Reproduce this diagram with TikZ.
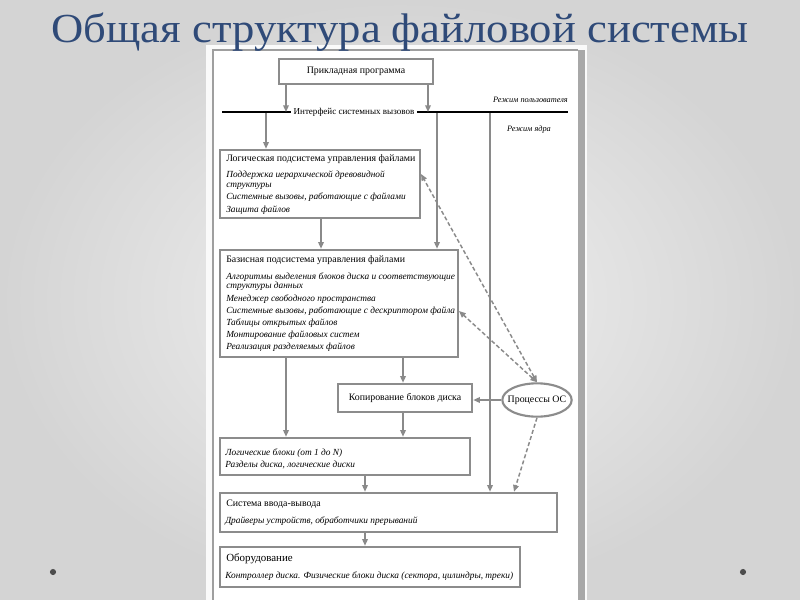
\documentclass[tikz,border=0pt]{standalone}
\usepackage{fontspec}
\setmainfont{Liberation Serif}
\usetikzlibrary{arrows.meta,shapes.geometric,fit,calc}
\definecolor{titc}{HTML}{2F4A78}
\definecolor{boxc}{HTML}{8C8C8C}
\definecolor{arrc}{HTML}{8A8A8A}
\definecolor{shadc}{HTML}{A8A8A8}
\begin{document}
\begin{tikzpicture}[x=0.75pt,y=-0.75pt,
  box/.style={draw=boxc, line width=1.9pt, inner sep=0pt, fill=white},
  arr/.style={draw=arrc, line width=1.1pt, -{Triangle[length=5pt,width=4.2pt]}},
  darr/.style={arr, dash pattern=on 3pt off 1.8pt},
  ddarr/.style={darr, {Triangle[length=5pt,width=4.2pt]}-{Triangle[length=5pt,width=4.2pt]}},
  ttl/.style={font=\fontsize{7.4}{8}\selectfont, inner sep=0pt},
  itm/.style={font=\fontsize{7}{8}\selectfont\itshape, inner sep=0pt},
]
\useasboundingbox (0,0) rectangle (800,600);
\shade[inner color={rgb,255:red,242;green,242;blue,242}, outer color={rgb,255:red,212;green,212;blue,212}] (0,0) rectangle (800,600);

% corner dots
\fill[gray!60!black] (53,572) circle (2.3pt);
\fill[gray!60!black] (743,572) circle (2.3pt);

% panel
\fill[white!96!gray] (206,45) rectangle (587,605);
\fill[white] (213,50) rectangle (578,605);
\draw[draw=gray!75, line width=1pt] (213,605) -- (213,50) -- (578,50);
\fill[shadc] (578,50) rectangle (585,605);

% title
\node[font=\fontsize{31}{36}\selectfont, text=titc, anchor=base, inner sep=0pt, xscale=1.08] (title) at (400,42) {Общая структура файловой системы};

% boxes
\node[box, fit={(279,59)(433,84)}] (app) {};
\node[ttl] (appt) at (app.center) {Прикладная программа};

\node[box, fit={(220,150)(420,218)}] (logic) {};
\node[box, fit={(220,250)(458,357)}] (basic) {};
\node[box, fit={(338,384)(472,412)}] (copy) {};
\node[ttl] (copyt) at (copy.center) {Копирование блоков диска};
\node[box, fit={(220,438)(470,475)}] (lblocks) {};
\node[box, fit={(220,493)(557,532)}] (io) {};
\node[box, fit={(220,547)(520,587)}] (hw) {};

\node[draw=boxc, line width=1.6pt, fill=white, ellipse, minimum width=52pt, minimum height=25pt, inner sep=0pt] (proc) at (537,400) {};
\node[ttl] (proct) at (proc.center) {Процессы ОС};

% texts: logic
\node[ttl, anchor=base west] (lg0) at (226,161) {Логическая подсистема управления файлами};
\foreach \y/\t in {177/{Поддержка иерархической древовидной}, 187/{структуры}, 199/{Системные вызовы, работающие с файлами}, 212/{Защита файлов}}
  \node[itm, anchor=base west] (lg\y) at (226,\y) {\t};

% texts: basic
\node[ttl, anchor=base west] (bs0) at (226,262) {Базисная подсистема управления файлами};
\foreach \y/\t in {279/{Алгоритмы выделения блоков диска и соответствующие}, 288/{структуры данных}, 301/{Менеджер свободного пространства}, 313/{Системные вызовы, работающие с дескриптором файла}, 325/{Таблицы открытых файлов}, 337/{Монтирование файловых систем}, 349/{Реализация разделяемых файлов}}
  \node[itm, anchor=base west] (bs\y) at (226,\y) {\t};

% texts: logical blocks
\node[itm, anchor=base west] (lb1) at (225,455) {Логические блоки (от 1 до N)};
\node[itm, anchor=base west] (lb2) at (225,467) {Разделы диска, логические диски};

% texts: io
\node[ttl, anchor=base west] (io1) at (226,506) {Система ввода-вывода};
\node[itm, anchor=base west] (io2) at (225,523) {Драйверы устройств, обработчики прерываний};

% texts: hardware
\node[font=\fontsize{8.2}{9}\selectfont, inner sep=0pt, anchor=base west] (hw1) at (226,561) {Оборудование};
\node[itm, anchor=base west] (hw2) at (225,578) {Контроллер диска. Физические блоки диска (сектора, цилиндры, треки)};

% mode labels
\node[itm, font=\fontsize{6.2}{7}\selectfont\itshape, anchor=base east] (umode) at (568,102) {Режим пользователя};
\node[itm, font=\fontsize{6.2}{7}\selectfont\itshape, anchor=base] (kmode) at (529,131) {Режим ядра};

% column coordinates
\coordinate (xA) at (286,0);
\coordinate (xB) at (428,0);
\coordinate (xC) at (266,0);
\coordinate (xD) at (437,0);
\coordinate (xE) at (490,0);
\coordinate (xF) at (321,0);
\coordinate (xG) at (403,0);
\coordinate (xH) at (365,0);
\coordinate (xI) at (514,0);
\coordinate (ifL) at (222,112);
\coordinate (ifR) at (568,112);
\coordinate (dl) at (421,174);
\coordinate (db) at (459,311);

% vertical connectors
\draw[arr] (xC |- ifL) -- (xC |- logic.north);
\draw[arr] (xD |- ifL) -- (xD |- basic.north);
\draw[arr] (xE |- ifL) -- (xE |- io.north);
\draw[arr] (xF |- logic.south) -- (xF |- basic.north);
\draw[arr] (xG |- basic.south) -- (xG |- copy.north);
\draw[arr] (xA |- basic.south) -- (xA |- lblocks.north);
\draw[arr] (xG |- copy.south) -- (xG |- lblocks.north);
\draw[arr] (xH |- lblocks.south) -- (xH |- io.north);
\draw[arr] (xH |- io.south) -- (xH |- hw.north);
\draw[arr] (proc.west) -- (proc.west -| copy.east);

% interface line
\draw[black, line width=2pt] (ifL) -- (ifR);
\node[fill=white, inner xsep=2pt, inner ysep=1pt, font=\fontsize{6.8}{7}\selectfont] (iface) at (354,112) {Интерфейс системных вызовов};
\draw[arr] (xA |- app.south) -- (xA |- ifL);
\draw[arr] (xB |- app.south) -- (xB |- ifL);

% dashed connectors
\draw[ddarr] (proc.north) -- (dl);
\draw[ddarr] (proc.north) -- (db);
\draw[darr] (proc.south) -- (xI |- io.north);
\end{tikzpicture}
\end{document}
